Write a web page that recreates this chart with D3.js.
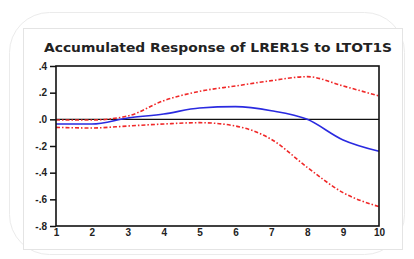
<!DOCTYPE html>
<html>
<head>
<meta charset="utf-8">
<script src="https://cdn.jsdelivr.net/npm/d3@7"></script>
<style>
  body { margin: 0; background: #fff; }
  svg { display: block; }
</style>
</head>
<body>
<div id="chart"></div>
<script>
// Periods on the x axis
const periods = [1, 2, 3, 4, 5, 6, 7, 8, 9, 10];
// Accumulated response and its +/- 2 S.E. bands
const response = [-0.035, -0.035, 0.01, 0.04, 0.085, 0.095, 0.065, 0.0, -0.155, -0.24];
const upperBand = [-0.005, -0.005, 0.025, 0.14, 0.21, 0.25, 0.29, 0.32, 0.25, 0.175];
const lowerBand = [-0.06, -0.065, -0.05, -0.035, -0.025, -0.05, -0.15, -0.36, -0.55, -0.655];
const yTicks = [0.4, 0.2, 0.0, -0.2, -0.4, -0.6, -0.8];
const yTickLabels = [".4", ".2", ".0", "-.2", "-.4", "-.6", "-.8"];

const W = 414, H = 259;
const margin = {top: 66, right: 35, bottom: 33, left: 56};
const width = W - margin.left - margin.right,
      height = H - margin.top - margin.bottom;

const svg = d3.select("#chart").append("svg")
    .attr("width", W)
    .attr("height", H);

// faint card background
svg.append("rect")
    .attr("x", 9.5).attr("y", 12.5)
    .attr("width", 395).attr("height", 242)
    .attr("rx", 40)
    .style("fill", "#fff")
    .style("stroke", "#ebebeb");
svg.append("rect")
    .attr("x", 23.5).attr("y", 28.5)
    .attr("width", 379).attr("height", 221)
    .style("fill", "#fff")
    .style("stroke", "#e4e4e4");

// Title
svg.append("text")
    .attr("x", 218).attr("y", 52)
    .attr("text-anchor", "middle")
    .attr("textLength", 348)
    .attr("lengthAdjust", "spacingAndGlyphs")
    .style("font-family", "DejaVu Sans")
    .style("font-weight", "bold")
    .style("font-size", "12px")
    .style("fill", "#222")
    .text("Accumulated Response of LRER1S to LTOT1S");

const g = svg.append("g")
    .attr("transform", "translate(" + margin.left + "," + margin.top + ")");

let x = d3.scaleLinear().domain([1, 10]).range([0, width]);
let y = d3.scaleLinear().domain([-0.8, 0.4]).range([height, 0]);

// Axes
let yAxis = d3.axisLeft(y)
    .tickValues(yTicks)
    .tickFormat((d, i) => yTickLabels[i])
    .tickSize(6)
    .tickPadding(3);
let xAxis = d3.axisBottom(x)
    .tickValues(periods)
    .tickFormat(d3.format("d"))
    .tickSize(0)
    .tickPadding(3);

let gy = g.append("g").call(yAxis);
let gx = g.append("g").attr("transform", "translate(0," + height + ")").call(xAxis);
[gy, gx].forEach(a => {
    a.select(".domain").remove();
    a.selectAll("line").style("stroke", "#111").style("stroke-width", 1.5);
    a.selectAll("text")
        .style("font-family", "Liberation Sans")
        .style("font-weight", "bold")
        .style("font-size", "10px")
        .style("fill", "#222");
});

// Zero line
g.append("line")
    .attr("x1", 0).attr("x2", width)
    .attr("y1", y(0)).attr("y2", y(0))
    .style("stroke", "#111").style("stroke-width", 1.3);

function makeLine(values) {
    return d3.line()
        .curve(d3.curveMonotoneX)
        .x((d, i) => x(periods[i]))
        .y(d => y(d))(values);
}

// Confidence bands
[upperBand, lowerBand].forEach(band => {
    g.append("path")
        .attr("d", makeLine(band))
        .style("fill", "none")
        .style("stroke", "#f02828")
        .style("stroke-width", 1.6)
        .style("stroke-dasharray", "4,2,1.5,2");
});

// Response line
g.append("path")
    .attr("d", makeLine(response))
    .style("fill", "none")
    .style("stroke", "#2a2ae0")
    .style("stroke-width", 1.6);

// Frame
g.append("rect")
    .attr("width", width).attr("height", height)
    .style("fill", "none")
    .style("stroke", "#111")
    .style("stroke-width", 1.6);
</script>
</body>
</html>
